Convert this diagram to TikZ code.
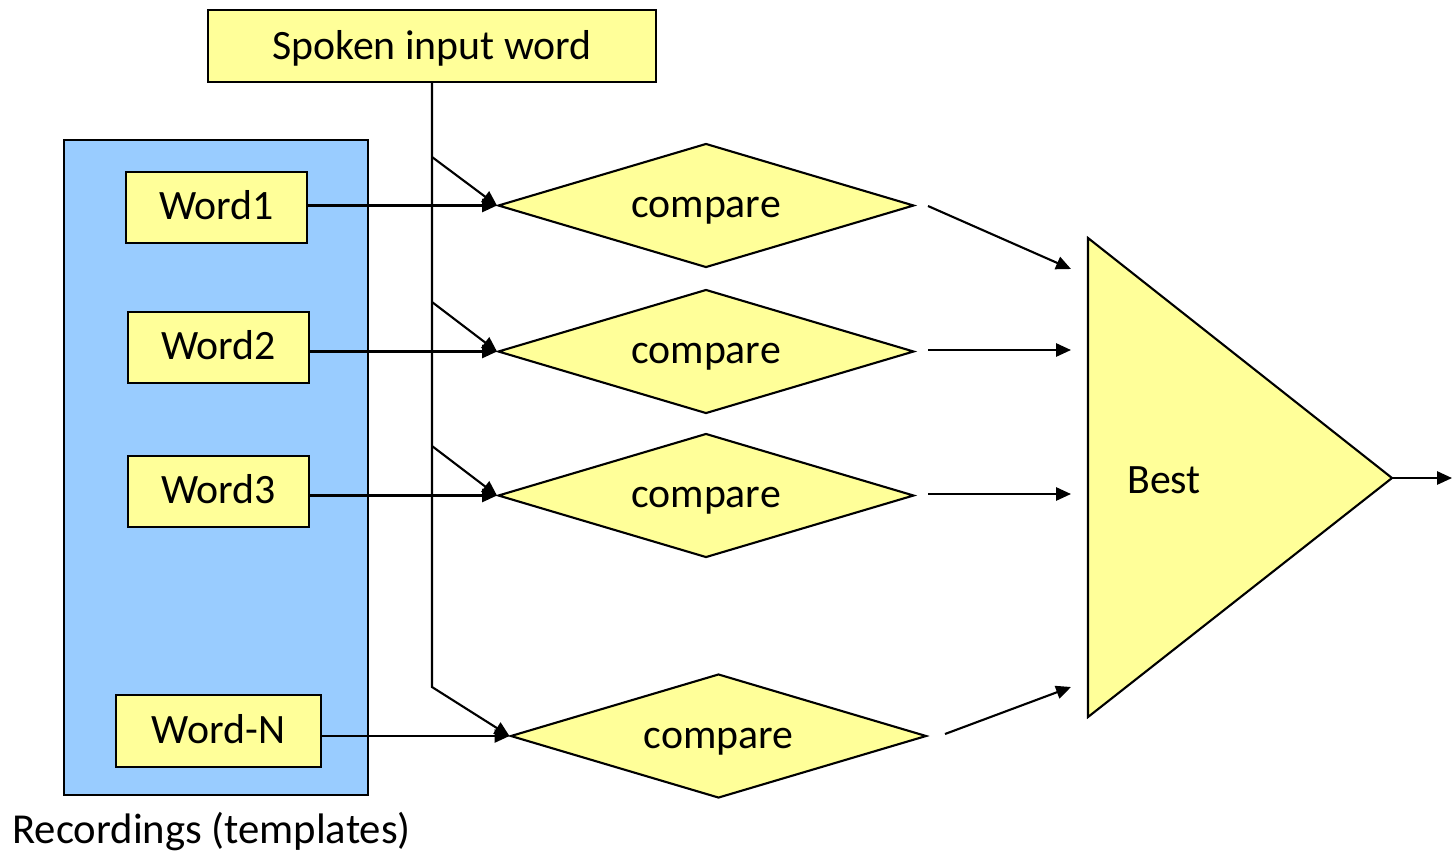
\documentclass[tikz,border=0pt]{standalone}
\usepackage{fontspec}
\setmainfont{Carlito}
\usetikzlibrary{shapes.geometric,arrows.meta}
\definecolor{ylw}{HTML}{FFFF99}
\definecolor{blu}{HTML}{99CCFF}
\begin{document}
\begin{tikzpicture}[x=0.02cm,y=-0.02cm,
  font=\fontsize{23.8pt}{28pt}\selectfont,
  every node/.style={inner sep=0pt},
  ybox/.style={draw=black,line width=1.2pt,fill=ylw,text height=14.2pt,text depth=0pt},
  cmp/.style={draw=black,line width=1.2pt,fill=ylw,shape=diamond,aspect=3.33,minimum width=8.32cm,minimum height=2.48cm,text height=14.2pt,text depth=0pt},
  arr/.style={line width=1.2pt,-{Triangle[length=8.5pt,width=7.5pt]}},
  ln/.style={line width=1.2pt}]
\useasboundingbox (0,0) rectangle (1452,856);
% container
\node[draw=black,line width=1.2pt,fill=blu,minimum width=6.08cm,minimum height=13.1cm] (rec) at (216,467.5) {};
\node[anchor=west] (reclab) at (12,832) {\fontsize{24.3pt}{28pt}\selectfont Recordings (templates)};
% word boxes
\node[ybox,minimum width=3.62cm,minimum height=1.42cm] (w1) at (216.5,207.5) {Word1};
\node[ybox,minimum width=3.62cm,minimum height=1.42cm] (w2) at (218.5,347.5) {Word2};
\node[ybox,minimum width=3.62cm,minimum height=1.42cm] (w3) at (218.5,491.5) {Word3};
\node[ybox,minimum width=4.1cm,minimum height=1.44cm] (wn) at (218.5,731) {Word-N};
% spoken
\node[ybox,minimum width=8.96cm,minimum height=1.44cm,text height=15.9pt] (sp) at (432,46) {Spoken input word};
% compares
\node[cmp] (c1) at (706,205.5) {compare};
\node[cmp] (c2) at (706,351.5) {compare};
\node[cmp] (c3) at (706,495.5) {compare};
\node[cmp] (c4) at (718.5,736) {compare};
% best triangle
\coordinate (t1) at (1088,238);
\coordinate (t2) at (1088,717);
\coordinate (t3) at (1392,478);
\draw[line width=1.2pt,fill=ylw,line join=miter] (t1) -- (t3) -- (t2) -- cycle;
\node (best) at (1164,480) {Best};
% branches
\coordinate (b1) at (432,157);
\coordinate (b2) at (432,302);
\coordinate (b3) at (432,446);
\coordinate (b4) at (432,687);
\draw[arr] (sp.south) -- (b4) -- (c4.west);
\draw[arr] (b1) -- (c1.west);
\draw[arr] (b2) -- (c2.west);
\draw[arr] (b3) -- (c3.west);
% word arrows
\draw[arr] (w1.east |- c1.west) -- (c1.west);
\draw[arr] (w2.east |- c2.west) -- (c2.west);
\draw[arr] (w3.east |- c3.west) -- (c3.west);
\draw[arr] (wn.east |- c4.west) -- (c4.west);
% outputs
\coordinate (o1s) at (928,206); \coordinate (o1e) at (1071,269);
\coordinate (o2s) at (928,350); \coordinate (o2e) at (1071,350);
\coordinate (o3s) at (928,494); \coordinate (o3e) at (1071,494);
\coordinate (o4s) at (945,734); \coordinate (o4e) at (1071,687);
\coordinate (oute) at (1452,478);
\draw[arr] (o1s) -- (o1e);
\draw[arr] (o2s) -- (o2e);
\draw[arr] (o3s) -- (o3e);
\draw[arr] (o4s) -- (o4e);
\draw[arr] (t3) -- (oute);
\end{tikzpicture}
\end{document}
